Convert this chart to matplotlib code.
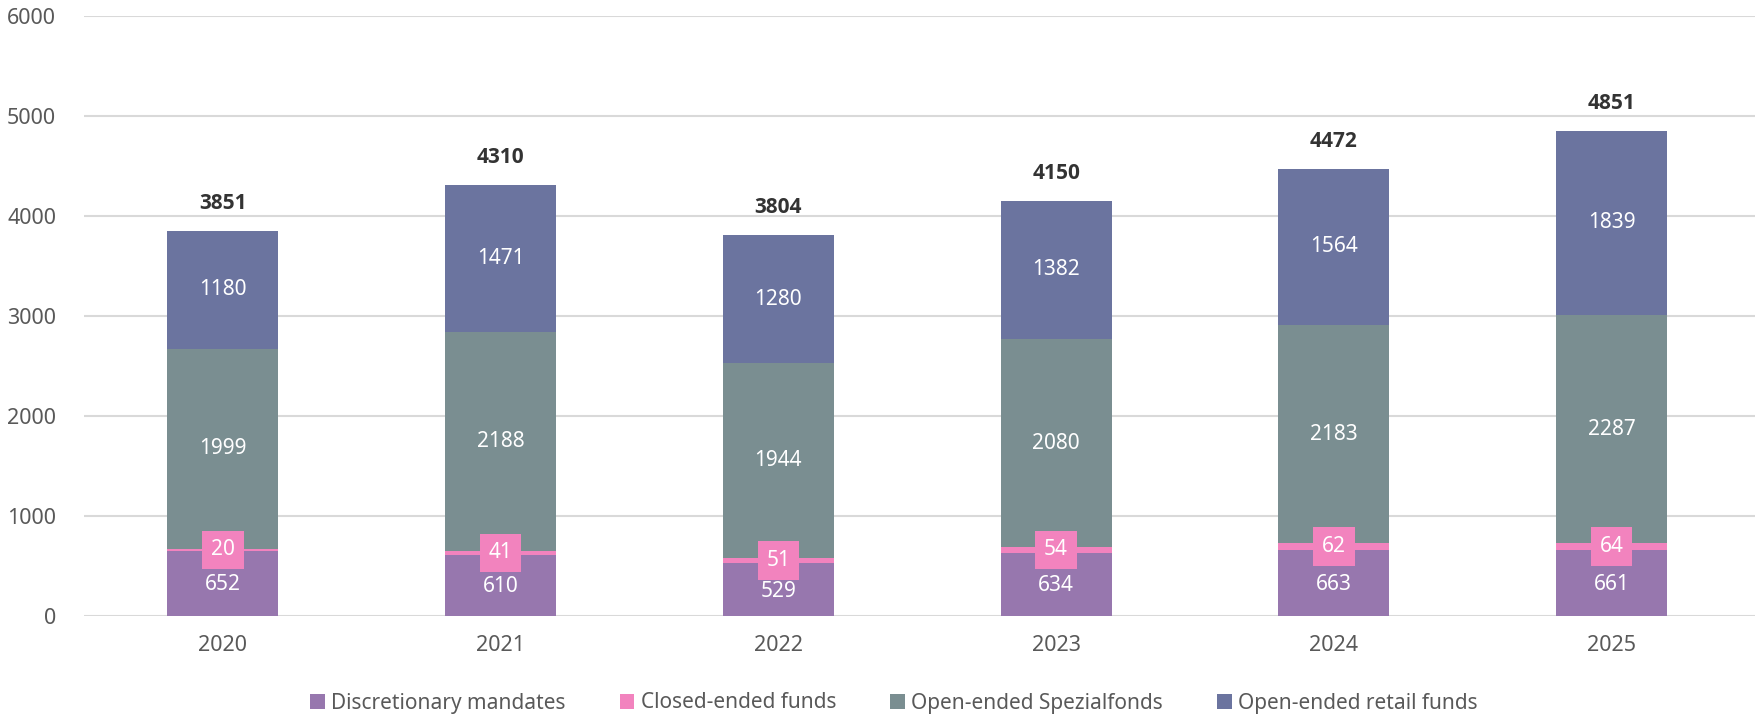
import matplotlib
matplotlib.use("Agg")
import matplotlib.pyplot as plt
import numpy as np

years = ["2020", "2021", "2022", "2023", "2024", "2025"]
discretionary = [652, 610, 529, 634, 663, 661]
closed_ended = [20, 41, 51, 54, 62, 64]
spezialfonds = [1999, 2188, 1944, 2080, 2183, 2287]
retail = [1180, 1471, 1280, 1382, 1564, 1839]
totals = [3851, 4310, 3804, 4150, 4472, 4851]

series_names = ["Discretionary mandates", "Closed-ended funds",
                "Open-ended Spezialfonds", "Open-ended retail funds"]
colors = ["#9777AE", "#F283BE", "#7A8E91", "#6B749F"]

plt.rcParams['font.family'] = ['Noto Sans', 'DejaVu Sans']

fig = plt.figure(figsize=(17.56, 7.17), dpi=100)
ax = fig.add_axes([84/1756, 1 - 616/717, 1 - 84/1756, (616 - 15.7)/717])

x = np.arange(len(years))
width = 0.40
bottom = np.zeros(len(years))
data = [discretionary, closed_ended, spezialfonds, retail]
for i, (vals, c, name) in enumerate(zip(data, colors, series_names)):
    v = np.array(vals, dtype=float)
    ax.bar(x, v, width, bottom=bottom, color=c, label=name, zorder=3, linewidth=0)
    for xi, b, val in zip(x, bottom, v):
        cy = b + val / 2
        if i == 1:
            ax.text(xi, cy, f"{int(val)}", ha='center', va='center', color='white',
                    fontsize=15, zorder=5,
                    bbox=dict(boxstyle='square,pad=0.42', facecolor=c, edgecolor='none'))
        elif i == 0:
            ax.text(xi, cy - 15, f"{int(val)}", ha='center', va='center', color='white',
                    fontsize=15, zorder=4)
        else:
            ax.text(xi, cy, f"{int(val)}", ha='center', va='center', color='white',
                    fontsize=15, zorder=4)
    bottom += v

for xi, t in zip(x, totals):
    ax.text(xi, t + 170, f"{t}", ha='center', va='bottom', color='#333333',
            fontsize=15, fontweight='bold', family=['Open Sans', 'DejaVu Sans'])

ax.set_xlim(-0.5, 5.52)
ax.set_ylim(0, 6000)
ax.set_yticks(np.arange(0, 6001, 1000))
ax.set_xticks(x)
ax.set_xticklabels(years)
ax.yaxis.grid(True, color='#D9D9D9', linewidth=1.5, zorder=0)
ax.set_axisbelow(True)
for s in ax.spines.values():
    s.set_visible(False)
ax.tick_params(axis='both', length=0, labelsize=15.5, colors='#595959')
ax.tick_params(axis='y', pad=20)
ax.tick_params(axis='x', pad=14)

handles, labels = ax.get_legend_handles_labels()
leg = fig.legend(handles, labels, loc='center', bbox_to_anchor=(894/1756, 1 - 703/717),
                 ncol=4, frameon=False, fontsize=15, handlelength=0.7, handleheight=0.7,
                 handletextpad=0.3, columnspacing=2.6)
for t in leg.get_texts():
    t.set_color('#595959')

fig.savefig("out.png", dpi=100)
